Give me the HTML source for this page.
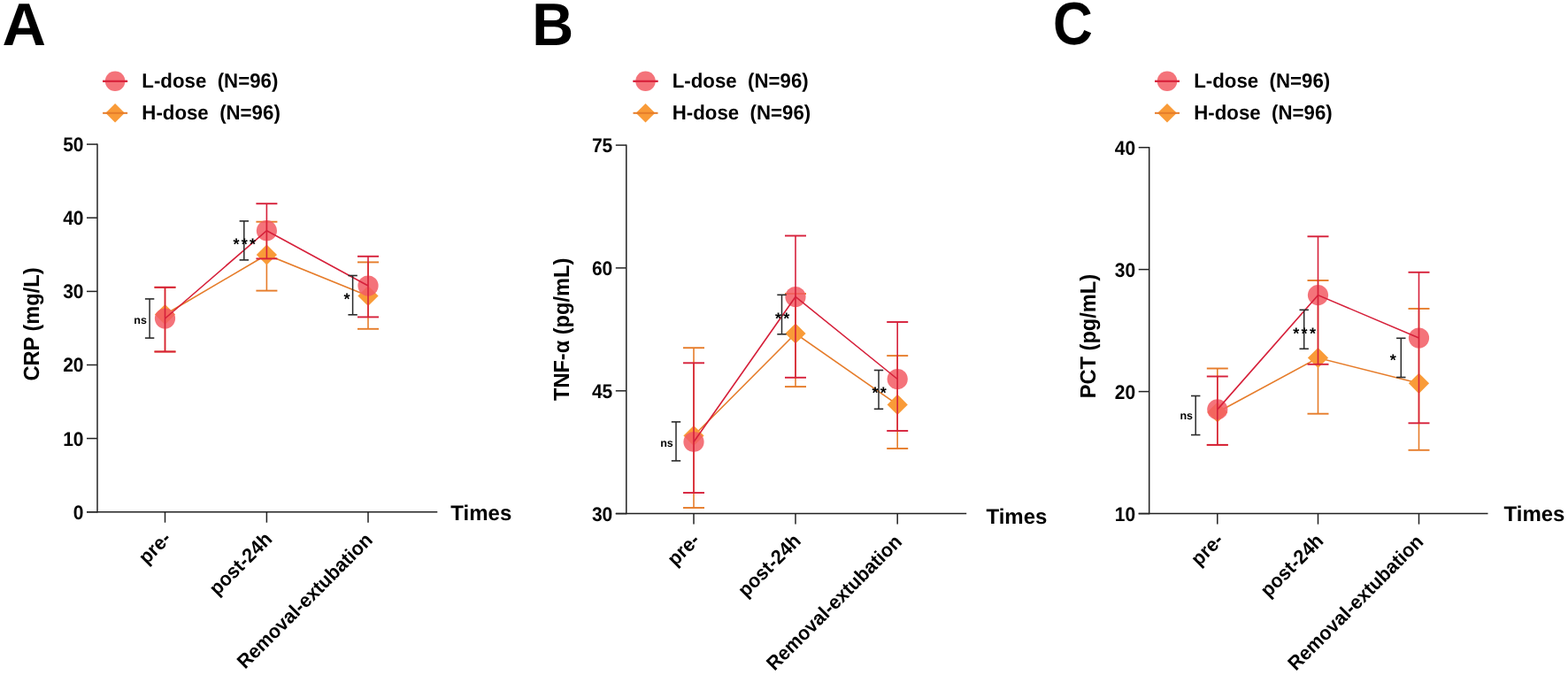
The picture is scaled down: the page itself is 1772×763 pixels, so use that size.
<!DOCTYPE html>
<html><head><meta charset="utf-8"><title>Figure</title>
<style>
html,body{margin:0;padding:0;background:#fff;}
body{width:1772px;height:763px;overflow:hidden;}
svg{display:block;}
text{font-family:'Liberation Sans', Arial, sans-serif;fill:#000;text-rendering:geometricPrecision;}
</style></head><body>
<svg width="1772" height="763" viewBox="0 0 1772 763">
<rect width="1772" height="763" fill="#fff"/>
<line x1="110.0" y1="162.4" x2="110.0" y2="579.4" stroke="#222" stroke-width="1.5"/>
<line x1="98.0" y1="578.7" x2="494.3" y2="578.7" stroke="#222" stroke-width="1.5"/>
<line x1="98.0" y1="163.1" x2="110.0" y2="163.1" stroke="#222" stroke-width="1.5"/>
<text transform="translate(94.50,171.00) scale(1.0,1.07)" font-size="21" text-anchor="end" font-weight="bold">50</text>
<line x1="98.0" y1="246.2" x2="110.0" y2="246.2" stroke="#222" stroke-width="1.5"/>
<text transform="translate(94.50,254.10) scale(1.0,1.07)" font-size="21" text-anchor="end" font-weight="bold">40</text>
<line x1="98.0" y1="329.4" x2="110.0" y2="329.4" stroke="#222" stroke-width="1.5"/>
<text transform="translate(94.50,337.30) scale(1.0,1.07)" font-size="21" text-anchor="end" font-weight="bold">30</text>
<line x1="98.0" y1="412.5" x2="110.0" y2="412.5" stroke="#222" stroke-width="1.5"/>
<text transform="translate(94.50,420.40) scale(1.0,1.07)" font-size="21" text-anchor="end" font-weight="bold">20</text>
<line x1="98.0" y1="495.6" x2="110.0" y2="495.6" stroke="#222" stroke-width="1.5"/>
<text transform="translate(94.50,503.50) scale(1.0,1.07)" font-size="21" text-anchor="end" font-weight="bold">10</text>
<line x1="98.0" y1="578.7" x2="110.0" y2="578.7" stroke="#222" stroke-width="1.5"/>
<text transform="translate(94.50,586.60) scale(1.0,1.07)" font-size="21" text-anchor="end" font-weight="bold">0</text>
<line x1="186.5" y1="578.7" x2="186.5" y2="590.7" stroke="#222" stroke-width="1.5"/>
<line x1="301.4" y1="578.7" x2="301.4" y2="590.7" stroke="#222" stroke-width="1.5"/>
<line x1="416.0" y1="578.7" x2="416.0" y2="590.7" stroke="#222" stroke-width="1.5"/>
<text transform="translate(194.50,610.00) rotate(-45) scale(1.0,1.04)" font-size="21.5" text-anchor="end" font-weight="bold">pre-</text>
<text transform="translate(308.80,610.70) rotate(-45) scale(1.0,1.04)" font-size="21.5" text-anchor="end" font-weight="bold">post-24h</text>
<text transform="translate(422.40,611.70) rotate(-45) scale(1.0,1.04)" font-size="21.5" text-anchor="end" font-weight="bold">Removal-extubation</text>
<text transform="translate(509.30,587.60)" font-size="24" text-anchor="start" font-weight="bold">Times</text>
<text transform="translate(43.80,366.50) rotate(-90) scale(1.0,1.05)" font-size="23.6" text-anchor="middle" font-weight="bold">CRP (mg/L)</text>
<text transform="translate(2.50,50.60) scale(1.055,1.045)" font-size="65" text-anchor="start" font-weight="bold">A</text>
<line x1="116.1" y1="91.8" x2="144.1" y2="91.8" stroke="#D6203A" stroke-width="2"/>
<circle cx="130.1" cy="91.8" r="11.3" fill="#F25C64" fill-opacity="0.86"/>
<line x1="116.1" y1="91.8" x2="144.1" y2="91.8" stroke="#D6203A" stroke-width="2"/>
<path d="M130.1 117.0L140.9 127.8L130.1 138.6L119.3 127.8Z" fill="#F99B38"/>
<line x1="116.1" y1="127.8" x2="144.1" y2="127.8" stroke="#E67C2A" stroke-width="2"/>
<text transform="translate(160.30,99.40) scale(1.012,1.045)" font-size="22" text-anchor="start" font-weight="bold">L-dose&#160;&#160;(N=96)</text>
<text transform="translate(160.30,135.40) scale(1.012,1.045)" font-size="22" text-anchor="start" font-weight="bold">H-dose&#160;&#160;(N=96)</text>
<polyline points="186.5,355.5 301.4,288.0 416.0,334.5" fill="none" stroke="#E67C2A" stroke-width="1.6"/>
<line x1="186.5" y1="324.8" x2="186.5" y2="397.5" stroke="#E67C2A" stroke-width="1.6"/>
<line x1="174.5" y1="324.8" x2="198.5" y2="324.8" stroke="#E67C2A" stroke-width="1.9"/>
<line x1="174.5" y1="397.5" x2="198.5" y2="397.5" stroke="#E67C2A" stroke-width="1.9"/>
<line x1="301.4" y1="250.7" x2="301.4" y2="328.6" stroke="#E67C2A" stroke-width="1.6"/>
<line x1="289.4" y1="250.7" x2="313.4" y2="250.7" stroke="#E67C2A" stroke-width="1.9"/>
<line x1="289.4" y1="328.6" x2="313.4" y2="328.6" stroke="#E67C2A" stroke-width="1.9"/>
<line x1="416.0" y1="296.4" x2="416.0" y2="371.8" stroke="#E67C2A" stroke-width="1.6"/>
<line x1="404.0" y1="296.4" x2="428.0" y2="296.4" stroke="#E67C2A" stroke-width="1.9"/>
<line x1="404.0" y1="371.8" x2="428.0" y2="371.8" stroke="#E67C2A" stroke-width="1.9"/>
<path d="M186.5 343.9L198.1 355.5L186.5 367.1L174.9 355.5Z" fill="#F99B38"/>
<path d="M301.4 276.4L313.0 288.0L301.4 299.6L289.8 288.0Z" fill="#F99B38"/>
<path d="M416.0 322.9L427.6 334.5L416.0 346.1L404.4 334.5Z" fill="#F99B38"/>
<circle cx="186.5" cy="360.0" r="11.6" fill="#F25C64" fill-opacity="0.86"/>
<circle cx="301.4" cy="260.7" r="11.6" fill="#F25C64" fill-opacity="0.86"/>
<circle cx="416.0" cy="323.0" r="11.6" fill="#F25C64" fill-opacity="0.86"/>
<polyline points="186.5,360.0 301.4,260.7 416.0,323.0" fill="none" stroke="#D6203A" stroke-width="1.6"/>
<line x1="186.5" y1="324.8" x2="186.5" y2="397.5" stroke="#D6203A" stroke-width="1.6"/>
<line x1="174.5" y1="324.8" x2="198.5" y2="324.8" stroke="#D6203A" stroke-width="1.9"/>
<line x1="174.5" y1="397.5" x2="198.5" y2="397.5" stroke="#D6203A" stroke-width="1.9"/>
<line x1="301.4" y1="230.2" x2="301.4" y2="292.4" stroke="#D6203A" stroke-width="1.6"/>
<line x1="289.4" y1="230.2" x2="313.4" y2="230.2" stroke="#D6203A" stroke-width="1.9"/>
<line x1="289.4" y1="292.4" x2="313.4" y2="292.4" stroke="#D6203A" stroke-width="1.9"/>
<line x1="416.0" y1="289.8" x2="416.0" y2="358.4" stroke="#D6203A" stroke-width="1.6"/>
<line x1="404.0" y1="289.8" x2="428.0" y2="289.8" stroke="#D6203A" stroke-width="1.9"/>
<line x1="404.0" y1="358.4" x2="428.0" y2="358.4" stroke="#D6203A" stroke-width="1.9"/>
<line x1="169.1" y1="337.9" x2="169.1" y2="382.1" stroke="#2a2a2a" stroke-width="1.5"/>
<line x1="163.9" y1="337.9" x2="174.3" y2="337.9" stroke="#2a2a2a" stroke-width="1.6"/>
<line x1="163.9" y1="382.1" x2="174.3" y2="382.1" stroke="#2a2a2a" stroke-width="1.6"/>
<text transform="translate(158.60,366.00)" font-size="12.5" text-anchor="middle" font-weight="bold">ns</text>
<line x1="275.8" y1="249.9" x2="275.8" y2="293.9" stroke="#2a2a2a" stroke-width="1.5"/>
<line x1="270.6" y1="249.9" x2="281.0" y2="249.9" stroke="#2a2a2a" stroke-width="1.6"/>
<line x1="270.6" y1="293.9" x2="281.0" y2="293.9" stroke="#2a2a2a" stroke-width="1.6"/>
<text transform="translate(277.35,282.10)" font-size="18" text-anchor="middle" font-weight="bold" letter-spacing="2.3">***</text>
<line x1="398.6" y1="311.5" x2="398.6" y2="355.8" stroke="#2a2a2a" stroke-width="1.5"/>
<line x1="393.4" y1="311.5" x2="403.8" y2="311.5" stroke="#2a2a2a" stroke-width="1.6"/>
<line x1="393.4" y1="355.8" x2="403.8" y2="355.8" stroke="#2a2a2a" stroke-width="1.6"/>
<text transform="translate(393.15,344.20)" font-size="18" text-anchor="middle" font-weight="bold" letter-spacing="2.3">*</text>
<line x1="707.8" y1="163.4" x2="707.8" y2="581.3" stroke="#222" stroke-width="1.5"/>
<line x1="695.8" y1="580.6" x2="1092.2" y2="580.6" stroke="#222" stroke-width="1.5"/>
<line x1="695.8" y1="164.1" x2="707.8" y2="164.1" stroke="#222" stroke-width="1.5"/>
<text transform="translate(692.30,172.00) scale(1.0,1.07)" font-size="21" text-anchor="end" font-weight="bold">75</text>
<line x1="695.8" y1="302.9" x2="707.8" y2="302.9" stroke="#222" stroke-width="1.5"/>
<text transform="translate(692.30,310.80) scale(1.0,1.07)" font-size="21" text-anchor="end" font-weight="bold">60</text>
<line x1="695.8" y1="441.8" x2="707.8" y2="441.8" stroke="#222" stroke-width="1.5"/>
<text transform="translate(692.30,449.70) scale(1.0,1.07)" font-size="21" text-anchor="end" font-weight="bold">45</text>
<line x1="695.8" y1="580.6" x2="707.8" y2="580.6" stroke="#222" stroke-width="1.5"/>
<text transform="translate(692.30,588.50) scale(1.0,1.07)" font-size="21" text-anchor="end" font-weight="bold">30</text>
<line x1="784.0" y1="580.6" x2="784.0" y2="592.6" stroke="#222" stroke-width="1.5"/>
<line x1="899.0" y1="580.6" x2="899.0" y2="592.6" stroke="#222" stroke-width="1.5"/>
<line x1="1014.2" y1="580.6" x2="1014.2" y2="592.6" stroke="#222" stroke-width="1.5"/>
<text transform="translate(792.00,611.90) rotate(-45) scale(1.0,1.04)" font-size="21.5" text-anchor="end" font-weight="bold">pre-</text>
<text transform="translate(906.40,612.60) rotate(-45) scale(1.0,1.04)" font-size="21.5" text-anchor="end" font-weight="bold">post-24h</text>
<text transform="translate(1020.60,613.60) rotate(-45) scale(1.0,1.04)" font-size="21.5" text-anchor="end" font-weight="bold">Removal-extubation</text>
<text transform="translate(1114.40,592.10)" font-size="24" text-anchor="start" font-weight="bold">Times</text>
<text transform="translate(643.30,372.40) rotate(-90) scale(1.0,1.05)" font-size="23.6" text-anchor="middle" font-weight="bold">TNF-&#945; (pg/mL)</text>
<text transform="translate(601.20,50.60) scale(1.0,1.045)" font-size="65" text-anchor="start" font-weight="bold">B</text>
<line x1="715.5" y1="91.8" x2="743.5" y2="91.8" stroke="#D6203A" stroke-width="2"/>
<circle cx="729.5" cy="91.8" r="11.3" fill="#F25C64" fill-opacity="0.86"/>
<line x1="715.5" y1="91.8" x2="743.5" y2="91.8" stroke="#D6203A" stroke-width="2"/>
<path d="M729.5 117.0L740.3 127.8L729.5 138.6L718.7 127.8Z" fill="#F99B38"/>
<line x1="715.5" y1="127.8" x2="743.5" y2="127.8" stroke="#E67C2A" stroke-width="2"/>
<text transform="translate(759.70,99.40) scale(1.012,1.045)" font-size="22" text-anchor="start" font-weight="bold">L-dose&#160;&#160;(N=96)</text>
<text transform="translate(759.70,135.40) scale(1.012,1.045)" font-size="22" text-anchor="start" font-weight="bold">H-dose&#160;&#160;(N=96)</text>
<polyline points="784.0,492.5 899.0,377.0 1014.2,457.4" fill="none" stroke="#E67C2A" stroke-width="1.6"/>
<line x1="784.0" y1="393.2" x2="784.0" y2="574.0" stroke="#E67C2A" stroke-width="1.6"/>
<line x1="772.0" y1="393.2" x2="796.0" y2="393.2" stroke="#E67C2A" stroke-width="1.9"/>
<line x1="772.0" y1="574.0" x2="796.0" y2="574.0" stroke="#E67C2A" stroke-width="1.9"/>
<line x1="899.0" y1="332.0" x2="899.0" y2="437.1" stroke="#E67C2A" stroke-width="1.6"/>
<line x1="887.0" y1="332.0" x2="911.0" y2="332.0" stroke="#E67C2A" stroke-width="1.9"/>
<line x1="887.0" y1="437.1" x2="911.0" y2="437.1" stroke="#E67C2A" stroke-width="1.9"/>
<line x1="1014.2" y1="402.1" x2="1014.2" y2="507.0" stroke="#E67C2A" stroke-width="1.6"/>
<line x1="1002.2" y1="402.1" x2="1026.2" y2="402.1" stroke="#E67C2A" stroke-width="1.9"/>
<line x1="1002.2" y1="507.0" x2="1026.2" y2="507.0" stroke="#E67C2A" stroke-width="1.9"/>
<path d="M784.0 480.9L795.6 492.5L784.0 504.1L772.4 492.5Z" fill="#F99B38"/>
<path d="M899.0 365.4L910.6 377.0L899.0 388.6L887.4 377.0Z" fill="#F99B38"/>
<path d="M1014.2 445.8L1025.8 457.4L1014.2 469.0L1002.6 457.4Z" fill="#F99B38"/>
<circle cx="784.0" cy="499.5" r="11.6" fill="#F25C64" fill-opacity="0.86"/>
<circle cx="899.0" cy="335.5" r="11.6" fill="#F25C64" fill-opacity="0.86"/>
<circle cx="1014.2" cy="428.5" r="11.6" fill="#F25C64" fill-opacity="0.86"/>
<polyline points="784.0,499.5 899.0,335.5 1014.2,428.5" fill="none" stroke="#D6203A" stroke-width="1.6"/>
<line x1="784.0" y1="410.3" x2="784.0" y2="557.0" stroke="#D6203A" stroke-width="1.6"/>
<line x1="772.0" y1="410.3" x2="796.0" y2="410.3" stroke="#D6203A" stroke-width="1.9"/>
<line x1="772.0" y1="557.0" x2="796.0" y2="557.0" stroke="#D6203A" stroke-width="1.9"/>
<line x1="899.0" y1="266.5" x2="899.0" y2="426.8" stroke="#D6203A" stroke-width="1.6"/>
<line x1="887.0" y1="266.5" x2="911.0" y2="266.5" stroke="#D6203A" stroke-width="1.9"/>
<line x1="887.0" y1="426.8" x2="911.0" y2="426.8" stroke="#D6203A" stroke-width="1.9"/>
<line x1="1014.2" y1="364.0" x2="1014.2" y2="487.0" stroke="#D6203A" stroke-width="1.6"/>
<line x1="1002.2" y1="364.0" x2="1026.2" y2="364.0" stroke="#D6203A" stroke-width="1.9"/>
<line x1="1002.2" y1="487.0" x2="1026.2" y2="487.0" stroke="#D6203A" stroke-width="1.9"/>
<line x1="764.0" y1="476.9" x2="764.0" y2="520.9" stroke="#2a2a2a" stroke-width="1.5"/>
<line x1="758.8" y1="476.9" x2="769.2" y2="476.9" stroke="#2a2a2a" stroke-width="1.6"/>
<line x1="758.8" y1="520.9" x2="769.2" y2="520.9" stroke="#2a2a2a" stroke-width="1.6"/>
<text transform="translate(753.50,504.50)" font-size="12.5" text-anchor="middle" font-weight="bold">ns</text>
<line x1="883.5" y1="333.3" x2="883.5" y2="377.8" stroke="#2a2a2a" stroke-width="1.5"/>
<line x1="878.3" y1="333.3" x2="888.7" y2="333.3" stroke="#2a2a2a" stroke-width="1.6"/>
<line x1="878.3" y1="377.8" x2="888.7" y2="377.8" stroke="#2a2a2a" stroke-width="1.6"/>
<text transform="translate(885.20,366.00)" font-size="18" text-anchor="middle" font-weight="bold" letter-spacing="2.3">**</text>
<line x1="993.0" y1="418.5" x2="993.0" y2="462.3" stroke="#2a2a2a" stroke-width="1.5"/>
<line x1="987.8" y1="418.5" x2="998.2" y2="418.5" stroke="#2a2a2a" stroke-width="1.6"/>
<line x1="987.8" y1="462.3" x2="998.2" y2="462.3" stroke="#2a2a2a" stroke-width="1.6"/>
<text transform="translate(994.70,450.40)" font-size="18" text-anchor="middle" font-weight="bold" letter-spacing="2.3">**</text>
<line x1="1298.7" y1="166.0" x2="1298.7" y2="581.3" stroke="#222" stroke-width="1.5"/>
<line x1="1286.7" y1="580.6" x2="1681.5" y2="580.6" stroke="#222" stroke-width="1.5"/>
<line x1="1286.7" y1="166.7" x2="1298.7" y2="166.7" stroke="#222" stroke-width="1.5"/>
<text transform="translate(1283.20,174.60) scale(1.0,1.07)" font-size="21" text-anchor="end" font-weight="bold">40</text>
<line x1="1286.7" y1="304.6" x2="1298.7" y2="304.6" stroke="#222" stroke-width="1.5"/>
<text transform="translate(1283.20,312.50) scale(1.0,1.07)" font-size="21" text-anchor="end" font-weight="bold">30</text>
<line x1="1286.7" y1="442.6" x2="1298.7" y2="442.6" stroke="#222" stroke-width="1.5"/>
<text transform="translate(1283.20,450.50) scale(1.0,1.07)" font-size="21" text-anchor="end" font-weight="bold">20</text>
<line x1="1286.7" y1="580.6" x2="1298.7" y2="580.6" stroke="#222" stroke-width="1.5"/>
<text transform="translate(1283.20,588.50) scale(1.0,1.07)" font-size="21" text-anchor="end" font-weight="bold">10</text>
<line x1="1375.8" y1="580.6" x2="1375.8" y2="592.6" stroke="#222" stroke-width="1.5"/>
<line x1="1489.5" y1="580.6" x2="1489.5" y2="592.6" stroke="#222" stroke-width="1.5"/>
<line x1="1603.5" y1="580.6" x2="1603.5" y2="592.6" stroke="#222" stroke-width="1.5"/>
<text transform="translate(1383.80,611.90) rotate(-45) scale(1.0,1.04)" font-size="21.5" text-anchor="end" font-weight="bold">pre-</text>
<text transform="translate(1496.90,612.60) rotate(-45) scale(1.0,1.04)" font-size="21.5" text-anchor="end" font-weight="bold">post-24h</text>
<text transform="translate(1609.90,613.60) rotate(-45) scale(1.0,1.04)" font-size="21.5" text-anchor="end" font-weight="bold">Removal-extubation</text>
<text transform="translate(1699.50,589.20)" font-size="24" text-anchor="start" font-weight="bold">Times</text>
<text transform="translate(1238.00,380.10) rotate(-90) scale(1.0,1.05)" font-size="23.6" text-anchor="middle" font-weight="bold">PCT (pg/mL)</text>
<text transform="translate(1190.10,49.60) scale(0.955,1.045)" font-size="65" text-anchor="start" font-weight="bold">C</text>
<line x1="1305.0" y1="91.8" x2="1333.0" y2="91.8" stroke="#D6203A" stroke-width="2"/>
<circle cx="1319.0" cy="91.8" r="11.3" fill="#F25C64" fill-opacity="0.86"/>
<line x1="1305.0" y1="91.8" x2="1333.0" y2="91.8" stroke="#D6203A" stroke-width="2"/>
<path d="M1319.0 117.0L1329.8 127.8L1319.0 138.6L1308.2 127.8Z" fill="#F99B38"/>
<line x1="1305.0" y1="127.8" x2="1333.0" y2="127.8" stroke="#E67C2A" stroke-width="2"/>
<text transform="translate(1349.20,99.40) scale(1.012,1.045)" font-size="22" text-anchor="start" font-weight="bold">L-dose&#160;&#160;(N=96)</text>
<text transform="translate(1349.20,135.40) scale(1.012,1.045)" font-size="22" text-anchor="start" font-weight="bold">H-dose&#160;&#160;(N=96)</text>
<polyline points="1375.8,466.0 1489.5,404.5 1603.5,433.3" fill="none" stroke="#E67C2A" stroke-width="1.6"/>
<line x1="1375.8" y1="416.5" x2="1375.8" y2="502.9" stroke="#E67C2A" stroke-width="1.6"/>
<line x1="1363.8" y1="416.5" x2="1387.8" y2="416.5" stroke="#E67C2A" stroke-width="1.9"/>
<line x1="1363.8" y1="502.9" x2="1387.8" y2="502.9" stroke="#E67C2A" stroke-width="1.9"/>
<line x1="1489.5" y1="317.0" x2="1489.5" y2="467.7" stroke="#E67C2A" stroke-width="1.6"/>
<line x1="1477.5" y1="317.0" x2="1501.5" y2="317.0" stroke="#E67C2A" stroke-width="1.9"/>
<line x1="1477.5" y1="467.7" x2="1501.5" y2="467.7" stroke="#E67C2A" stroke-width="1.9"/>
<line x1="1603.5" y1="348.9" x2="1603.5" y2="508.8" stroke="#E67C2A" stroke-width="1.6"/>
<line x1="1591.5" y1="348.9" x2="1615.5" y2="348.9" stroke="#E67C2A" stroke-width="1.9"/>
<line x1="1591.5" y1="508.8" x2="1615.5" y2="508.8" stroke="#E67C2A" stroke-width="1.9"/>
<path d="M1375.8 454.4L1387.4 466.0L1375.8 477.6L1364.2 466.0Z" fill="#F99B38"/>
<path d="M1489.5 392.9L1501.1 404.5L1489.5 416.1L1477.9 404.5Z" fill="#F99B38"/>
<path d="M1603.5 421.7L1615.1 433.3L1603.5 444.9L1591.9 433.3Z" fill="#F99B38"/>
<circle cx="1375.8" cy="462.9" r="11.6" fill="#F25C64" fill-opacity="0.86"/>
<circle cx="1489.5" cy="333.6" r="11.6" fill="#F25C64" fill-opacity="0.86"/>
<circle cx="1603.5" cy="382.0" r="11.6" fill="#F25C64" fill-opacity="0.86"/>
<polyline points="1375.8,462.9 1489.5,333.6 1603.5,382.0" fill="none" stroke="#D6203A" stroke-width="1.6"/>
<line x1="1375.8" y1="425.5" x2="1375.8" y2="502.9" stroke="#D6203A" stroke-width="1.6"/>
<line x1="1363.8" y1="425.5" x2="1387.8" y2="425.5" stroke="#D6203A" stroke-width="1.9"/>
<line x1="1363.8" y1="502.9" x2="1387.8" y2="502.9" stroke="#D6203A" stroke-width="1.9"/>
<line x1="1489.5" y1="267.3" x2="1489.5" y2="411.8" stroke="#D6203A" stroke-width="1.6"/>
<line x1="1477.5" y1="267.3" x2="1501.5" y2="267.3" stroke="#D6203A" stroke-width="1.9"/>
<line x1="1477.5" y1="411.8" x2="1501.5" y2="411.8" stroke="#D6203A" stroke-width="1.9"/>
<line x1="1603.5" y1="307.8" x2="1603.5" y2="478.3" stroke="#D6203A" stroke-width="1.6"/>
<line x1="1591.5" y1="307.8" x2="1615.5" y2="307.8" stroke="#D6203A" stroke-width="1.9"/>
<line x1="1591.5" y1="478.3" x2="1615.5" y2="478.3" stroke="#D6203A" stroke-width="1.9"/>
<line x1="1351.2" y1="447.5" x2="1351.2" y2="491.6" stroke="#2a2a2a" stroke-width="1.5"/>
<line x1="1346.0" y1="447.5" x2="1356.4" y2="447.5" stroke="#2a2a2a" stroke-width="1.6"/>
<line x1="1346.0" y1="491.6" x2="1356.4" y2="491.6" stroke="#2a2a2a" stroke-width="1.6"/>
<text transform="translate(1340.70,474.00)" font-size="12.5" text-anchor="middle" font-weight="bold">ns</text>
<line x1="1473.7" y1="350.3" x2="1473.7" y2="394.3" stroke="#2a2a2a" stroke-width="1.5"/>
<line x1="1468.5" y1="350.3" x2="1478.9" y2="350.3" stroke="#2a2a2a" stroke-width="1.6"/>
<line x1="1468.5" y1="394.3" x2="1478.9" y2="394.3" stroke="#2a2a2a" stroke-width="1.6"/>
<text transform="translate(1475.25,382.60)" font-size="18" text-anchor="middle" font-weight="bold" letter-spacing="2.3">***</text>
<line x1="1583.3" y1="382.3" x2="1583.3" y2="426.5" stroke="#2a2a2a" stroke-width="1.5"/>
<line x1="1578.1" y1="382.3" x2="1588.5" y2="382.3" stroke="#2a2a2a" stroke-width="1.6"/>
<line x1="1578.1" y1="426.5" x2="1588.5" y2="426.5" stroke="#2a2a2a" stroke-width="1.6"/>
<text transform="translate(1575.45,413.30)" font-size="18" text-anchor="middle" font-weight="bold" letter-spacing="2.3">*</text>
</svg>
</body></html>
